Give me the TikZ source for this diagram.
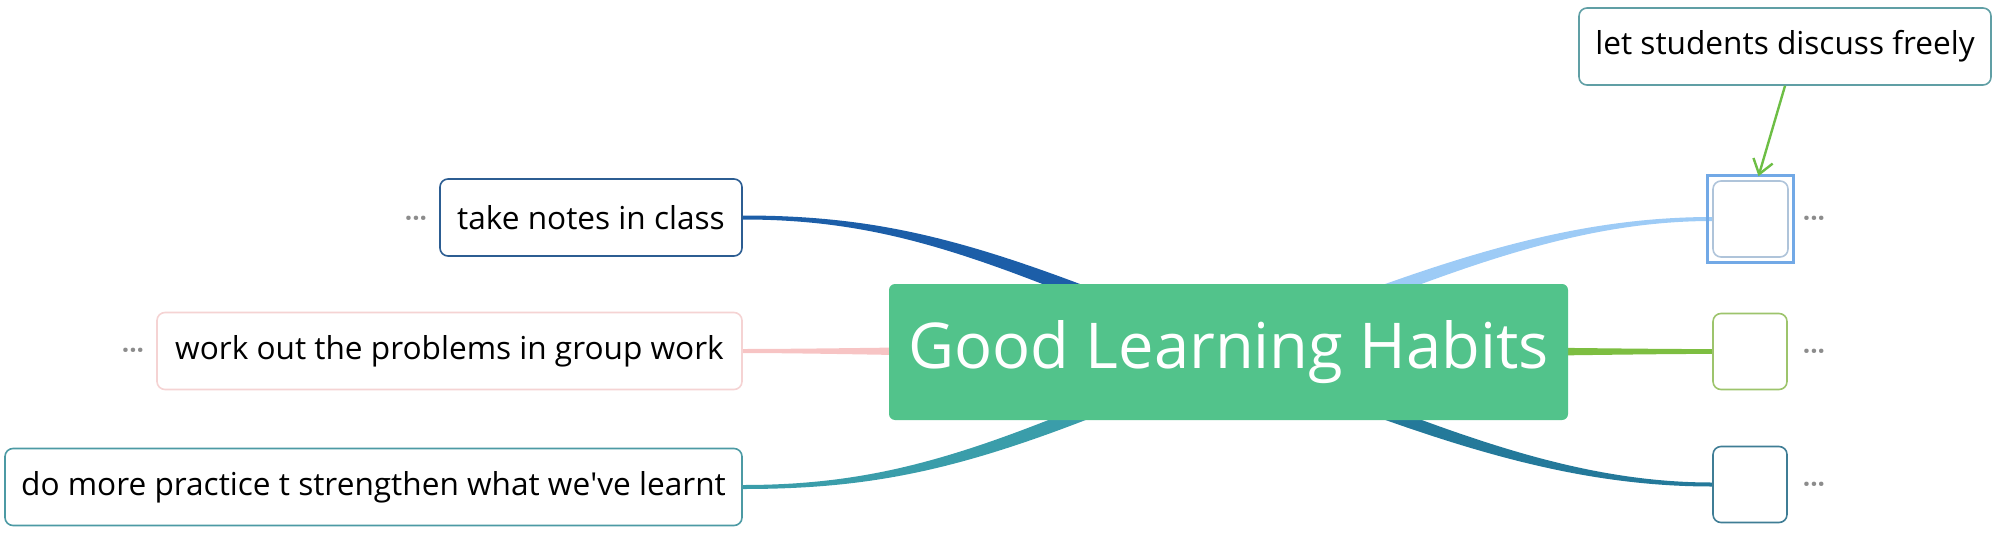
\documentclass[tikz,border=0pt]{standalone}
\usepackage{fontspec}
\setmainfont{Open Sans}
\usetikzlibrary{arrows.meta,backgrounds}

\definecolor{hubgreen}{HTML}{52C38B}
\definecolor{notesblue}{HTML}{1C5EA8}
\definecolor{notesedge}{HTML}{2C5D92}
\definecolor{grouppink}{HTML}{F7C4C4}
\definecolor{groupedge}{HTML}{F5D3D3}
\definecolor{practeal}{HTML}{3A9DAA}
\definecolor{pracedge}{HTML}{4C9AA4}
\definecolor{discedge}{HTML}{609FA5}
\definecolor{skyblue}{HTML}{9DCBF6}
\definecolor{selframe}{HTML}{72A9E6}
\definecolor{seledge}{HTML}{AFC4DA}
\definecolor{leafgreen}{HTML}{7DBE41}
\definecolor{leafedge}{HTML}{9DC46C}
\definecolor{deepteal}{HTML}{24799A}
\definecolor{deepedge}{HTML}{3F7D95}
\definecolor{arrowgreen}{HTML}{6DBE45}

% tapered branch: thin end, thick end, control 1, control 2, half widths, colour
\newcommand{\taper}[7]{%
  \fill[#7] ([yshift=-#5]#1) .. controls +(#3) and +(#4) .. ([yshift=-#6]#2)
    -- ([yshift=#6]#2) .. controls +(#4) and +(#3) .. ([yshift=#5]#1) -- cycle;}

\tikzset{
  hub/.style={fill=hubgreen, rounded corners=3pt, minimum width=339.5pt,
    minimum height=68pt, text=white, font=\fontsize{31.6}{36}\selectfont},
  topic/.style={draw, fill=white, rounded corners=4pt, line width=0.8pt,
    minimum height=38.5pt, font=\fontsize{15.8}{18}\selectfont},
  blank/.style={draw, fill=white, rounded corners=4pt, line width=0.8pt,
    minimum width=37pt, minimum height=38pt},
  more/.style={text=black!45, font=\bfseries\fontsize{13}{14}\selectfont}
}

\begin{document}
\begin{tikzpicture}[x=0.5pt, y=-0.5pt]
    \useasboundingbox (0,0) rectangle (2000,535);

    % Central topic
    \node[hub] (hub) at (1228.5,352) {Good Learning Habits};

    % Left branches
    \node[topic, draw=notesedge, minimum width=151pt] (notes) at (591,217.5) {take notes in class};
    \node[topic, draw=groupedge, minimum width=292.5pt] (group) at (449.5,351) {work out the problems in group work};
    \node[topic, draw=pracedge, minimum width=368.5pt] (practice) at (373.5,487) {do more practice t strengthen what we\textquotesingle ve learnt};
    \node[more] (notesmore) at (416,222) {···};
    \node[more] (groupmore) at (133,354) {···};

    % Right branches (empty)
    \node[blank, draw=seledge, minimum width=37.5pt] (first) at (1750.5,219) {};
    \draw[selframe, line width=1.5pt] ([shift={(-2.5pt,2.5pt)}]first.north west) rectangle ([shift={(2.5pt,-2.5pt)}]first.south east);
    \node[blank, draw=leafedge] (second) at (1750,351.5) {};
    \node[blank, draw=deepedge] (third) at (1750,484.5) {};
    \node[more] (firstmore) at (1814,222) {···};
    \node[more] (secondmore) at (1814,355) {···};
    \node[more] (thirdmore) at (1814,488) {···};

    % Callout
    \node[topic, draw=discedge, minimum width=206pt] (discuss) at (1785,46.5) {let students discuss freely};
    \draw[arrowgreen, line width=1.2pt, -{Straight Barb[length=7pt,width=10pt]}]
        (discuss.south) -- ([xshift=4pt,yshift=2pt]first.north);

    % Branch lines
    \begin{scope}[on background layer]
        \taper{notes.east}{hub.center}{158,0}{-228,-95}{1pt}{4.2pt}{notesblue}
        \taper{group.east}{hub.center}{100,0}{-100,0}{1pt}{4.2pt}{grouppink}
        \taper{practice.east}{hub.center}{158,0}{-228,100}{1pt}{4.2pt}{practeal}
        \taper{first.west}{hub.center}{-150,0}{200,-80}{1pt}{4pt}{skyblue}
        \taper{second.west}{hub.center}{-100,0}{100,0}{1.2pt}{3.8pt}{leafgreen}
        \taper{third.west}{hub.center}{-150,0}{200,80}{1pt}{4pt}{deepteal}
    \end{scope}
\end{tikzpicture}
\end{document}
